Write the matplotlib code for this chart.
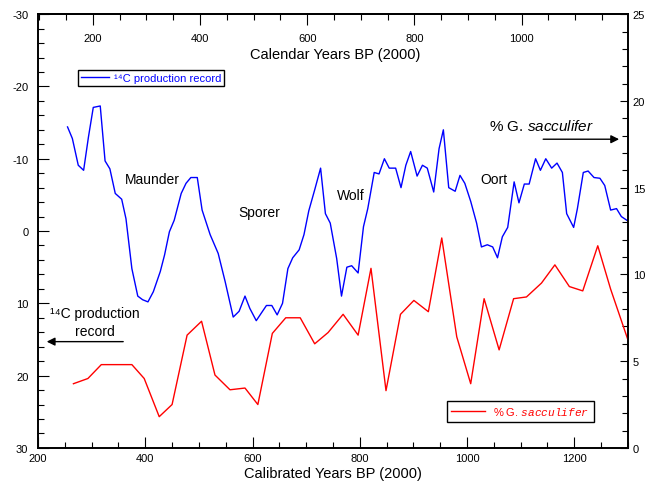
import numpy as np
import matplotlib
matplotlib.use('Agg')
import matplotlib.pyplot as plt
from matplotlib.ticker import MultipleLocator

plt.rcParams['font.family'] = ['Liberation Sans', 'DejaVu Sans']
plt.rcParams['axes.unicode_minus'] = False
plt.rcParams['mathtext.fontset'] = 'custom'
plt.rcParams['mathtext.rm'] = 'Liberation Sans'
plt.rcParams['mathtext.it'] = 'Liberation Sans:italic'
plt.rcParams['mathtext.tt'] = 'Liberation Mono:italic'

# 14C production record (left axis, inverted)
c14_years = [255, 264, 275, 285, 294, 303, 316, 325, 334, 344, 356, 364, 375, 386, 395,
             405, 415, 428, 436, 445, 454, 467, 476, 485, 497, 506, 521, 536, 549, 564,
             575, 586, 595, 607, 616, 626, 636, 646, 656, 666, 675, 687, 696, 705, 716,
             727, 736, 745, 757, 766, 776, 785, 797, 807, 815, 827, 836, 846, 855, 867,
             877, 886, 895, 907, 917, 926, 938, 948, 956, 966, 978, 987, 996, 1007, 1018,
             1027, 1038, 1048, 1057, 1066, 1076, 1088, 1097, 1107, 1116, 1128, 1137, 1147,
             1158, 1168, 1178, 1186, 1199, 1206, 1217, 1226, 1237, 1248, 1257, 1268, 1279,
             1288, 1298]
c14_values = [-14.4, -12.8, -9.1, -8.4, -13.0, -17.1, -17.3, -9.7, -8.6, -5.2, -4.4, -1.7,
              5.2, 9.0, 9.5, 9.8, 8.4, 5.6, 3.3, 0.1, -1.5, -5.2, -6.6, -7.4, -7.4, -2.9,
              0.5, 3.1, 7.0, 11.9, 11.1, 9.0, 10.7, 12.4, 11.4, 10.3, 10.3, 11.6, 10.0,
              5.2, 3.7, 2.6, 0.5, -2.8, -5.7, -8.7, -2.4, -1.1, 3.8, 9.0, 5.0, 4.8, 5.8,
              -0.6, -3.1, -8.1, -7.9, -10.0, -8.7, -8.7, -6.0, -9.1, -11.0, -7.6, -9.1,
              -8.7, -5.4, -11.4, -14.0, -6.0, -5.5, -7.7, -6.6, -4.1, -1.1, 2.2, 1.9, 2.2,
              3.7, 0.8, -0.5, -6.8, -3.9, -6.5, -6.5, -10.0, -8.4, -10.0, -8.7, -9.4, -8.1,
              -2.4, -0.5, -3.1, -8.1, -8.3, -7.4, -7.3, -6.3, -2.9, -3.1, -2.0, -1.5]

# % G. sacculifer (right axis)
sacc_years = [266, 293, 318, 375, 398, 426, 450, 478, 505, 530, 558, 586, 610, 637, 662,
              689, 716, 741, 769, 797, 821, 849, 876, 901, 928, 953, 981, 1007, 1032, 1060,
              1087, 1111, 1139, 1164, 1191, 1216, 1244, 1268, 1300]
sacc_values = [3.7, 4.0, 4.8, 4.8, 4.0, 1.8, 2.5, 6.5, 7.3, 4.2, 3.35, 3.45, 2.5, 6.6, 7.5,
               7.5, 6.0, 6.65, 7.7, 6.5, 10.35, 3.3, 7.7, 8.5, 7.85, 12.1, 6.4, 3.7, 8.6,
               5.65, 8.6, 8.7, 9.5, 10.55, 9.3, 9.05, 11.65, 9.15, 6.25]

# offset between calibrated and calendar years
cal_offset = 102

fig = plt.figure(figsize=(6.56, 4.89), dpi=100)
ax = fig.add_axes([0.058, 0.082, 0.899, 0.887])
ax2 = ax.twinx()

l1, = ax.plot(c14_years, c14_values, color='blue', lw=1.0)
l2, = ax2.plot(sacc_years, sacc_values, color='red', lw=1.0)

ax.set_xlim(200, 1300)
ax.set_ylim(30, -30)
ax2.set_ylim(0, 25)

ax.xaxis.set_major_locator(MultipleLocator(200))
ax.xaxis.set_minor_locator(MultipleLocator(50))
ax.yaxis.set_major_locator(MultipleLocator(10))
ax.yaxis.set_minor_locator(MultipleLocator(2))
ax2.yaxis.set_major_locator(MultipleLocator(5))
ax2.yaxis.set_minor_locator(MultipleLocator(1))

ax.tick_params(axis='x', which='both', direction='in', top=False, labelsize=8, pad=4, width=0.8)
ax.tick_params(axis='y', which='both', direction='in', right=False, labelsize=8, pad=7, width=0.8)
ax.tick_params(which='major', length=8)
ax.tick_params(which='minor', length=4.5)
ax2.tick_params(axis='y', which='both', direction='in', labelsize=8, pad=3.5, width=0.8)
ax2.tick_params(which='major', length=6)
ax2.tick_params(which='minor', length=4)

# calendar years on top, labels inside the frame
sec = ax.secondary_xaxis('top', functions=(lambda x: x - cal_offset, lambda x: x + cal_offset))
sec.xaxis.set_major_locator(MultipleLocator(200))
sec.xaxis.set_minor_locator(MultipleLocator(50))
sec.tick_params(which='both', direction='in', labelsize=8, pad=-21, width=0.8)
sec.tick_params(which='major', length=8)
sec.tick_params(which='minor', length=4.5)

for a in (ax, ax2):
    for s in a.spines.values():
        s.set_linewidth(1.2)
sec.spines['top'].set_linewidth(1.2)

ax.set_xlabel('Calibrated Years BP (2000)', fontsize=10.5, labelpad=2)
ax.text(0.503, 0.899, 'Calendar Years BP (2000)', transform=ax.transAxes,
        ha='center', va='baseline', fontsize=10.5)

# period names
ax.text(414, -7.2, 'Maunder', ha='center', va='center', fontsize=10)
ax.text(612, -2.6, 'Sporer', ha='center', va='center', fontsize=10)
ax.text(784, -5.0, 'Wolf', ha='center', va='center', fontsize=10)
ax.text(1050, -7.2, 'Oort', ha='center', va='center', fontsize=10)

# axis pointers
ax.text(1140, -14.6, '% G. $\\mathit{sacculifer}$', ha='center', va='center', fontsize=11)
ax.annotate('', xy=(1289, -12.7), xytext=(1137, -12.7),
            arrowprops=dict(arrowstyle='-|>', color='black', lw=1, mutation_scale=12))
ax.text(306, 11.3, '¹⁴C production', ha='center', va='center', fontsize=10)
ax.text(306, 13.8, 'record', ha='center', va='center', fontsize=10)
ax.annotate('', xy=(211, 15.3), xytext=(364, 15.3),
            arrowprops=dict(arrowstyle='-|>', color='black', lw=1, mutation_scale=12))

leg1 = ax2.legend([l1], ['¹⁴C production record'], loc='upper left',
                  bbox_to_anchor=(0.068, 0.872), borderaxespad=0, fontsize=8,
                  labelcolor='blue', fancybox=False, edgecolor='black',
                  handlelength=2.5, handletextpad=0.4, borderpad=0.3, framealpha=1)
leg1.get_frame().set_linewidth(1.0)
ax2.add_artist(leg1)
leg2 = ax2.legend([l2], ['% G. $\\mathtt{sacculifer}$'], loc='upper left',
                  bbox_to_anchor=(0.693, 0.109), borderaxespad=0, fontsize=8,
                  labelcolor='red', fancybox=False, edgecolor='black',
                  handlelength=3.0, handletextpad=0.8, borderpad=0.4, framealpha=1)
leg2.get_frame().set_linewidth(1.0)

fig.savefig('out.png', dpi=100)
